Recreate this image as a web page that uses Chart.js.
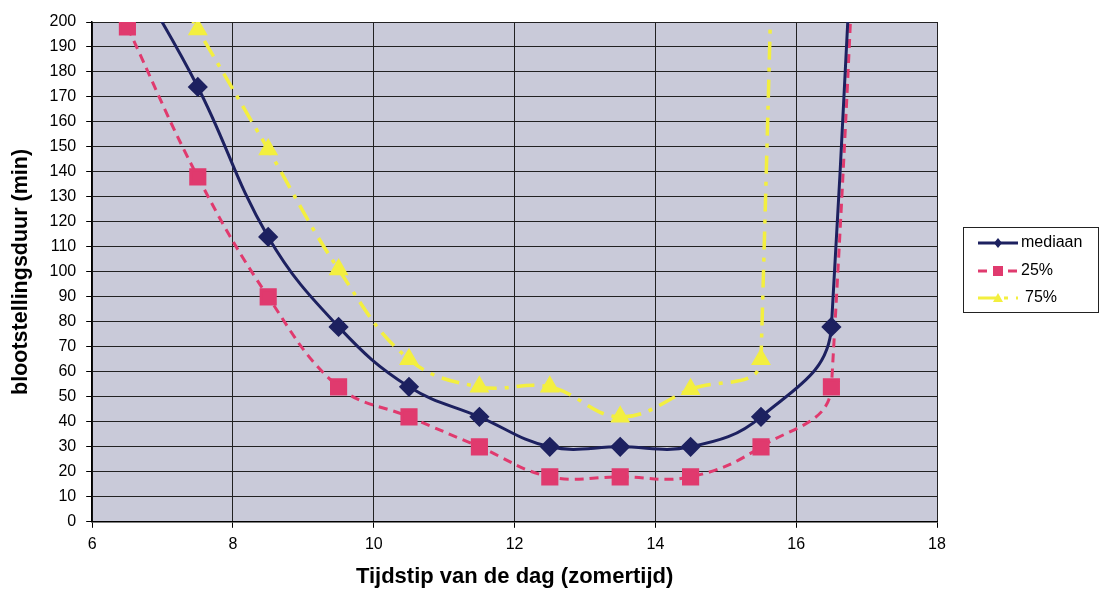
<!DOCTYPE html>
<html>
<head>
<meta charset="utf-8">
<script src="https://cdn.jsdelivr.net/npm/chart.js@4/dist/chart.umd.min.js"></script>
<style>
  html, body { margin: 0; padding: 0; background: #ffffff; }
  #wrap { width: 1101px; height: 589px; position: relative; }
</style>
</head>
<body>
<div id="wrap"><canvas id="c" width="1101" height="589"></canvas></div>
<script>
// ---- data ----
const hoursMed = [6.5, 7.5, 8.5, 9.5, 10.5, 11.5, 12.5, 13.5, 14.5, 15.5, 16.5, 17.5];
const mediaan  = [224, 174, 114, 78, 54, 42, 30, 30, 30, 42, 78, 1000];
const hours25  = [6.5, 7.5, 8.5, 9.5, 10.5, 11.5, 12.5, 13.5, 14.5, 15.5, 16.5, 17.5];
const p25      = [198, 138, 90, 54, 42, 30, 18, 18, 18, 30, 54, 1000];
const hours75  = [6.5, 7.5, 8.5, 9.5, 10.5, 11.5, 12.5, 13.5, 14.5, 15.5, 16.5];
const p75      = [245, 197, 149, 101, 65, 54, 54, 42, 53, 65, 2000];
const seriesNames = ['mediaan', '25%', '75%'];
const xTicks = [6, 8, 10, 12, 14, 16, 18];
const yTitle = 'blootstellingsduur (min)';
const xTitle = 'Tijdstip van de dag (zomertijd)';

const pts = (xs, ys) => xs.map((x, i) => ({ x: x, y: ys[i] }));

const FONT = '"Liberation Sans", Arial, sans-serif';
const COL_MED = '#1d2160';
const COL_25 = '#e03a6e';
const COL_75 = '#f3ef3f';

const legendPlugin = {
  id: 'boxLegend',
  afterDraw(chart) {
    const ctx = chart.ctx;
    const bx = 963, by = 227, bw = 135, bh = 85;
    ctx.save();
    ctx.fillStyle = '#ffffff';
    ctx.fillRect(bx, by, bw, bh);
    ctx.strokeStyle = '#222222';
    ctx.lineWidth = 1;
    ctx.strokeRect(bx + 0.5, by + 0.5, bw, bh);
    const rows = [by + 16, by + 44, by + 71];
    chart.data.datasets.forEach((ds, i) => {
      const y = rows[i];
      ctx.strokeStyle = ds.borderColor;
      ctx.lineWidth = 3;
      ctx.setLineDash(ds.borderDash || []);
      ctx.beginPath();
      ctx.moveTo(978, y);
      ctx.lineTo(1018, y);
      ctx.stroke();
      ctx.setLineDash([]);
      ctx.fillStyle = ds.pointBackgroundColor;
      const cx = 998;
      ctx.beginPath();
      if (ds.pointStyle === 'rect') {
        ctx.fillRect(cx - 5, y - 5, 10, 10);
      } else if (ds.pointStyle === 'rectRot') {
        ctx.moveTo(cx, y - 5); ctx.lineTo(cx + 4, y); ctx.lineTo(cx, y + 5); ctx.lineTo(cx - 4, y); ctx.closePath(); ctx.fill();
      } else {
        ctx.moveTo(cx, y - 5); ctx.lineTo(cx + 5, y + 4); ctx.lineTo(cx - 5, y + 4); ctx.closePath(); ctx.fill();
      }
      ctx.fillStyle = '#000000';
      ctx.font = '16px ' + FONT;
      ctx.textBaseline = 'middle';
      ctx.textAlign = 'left';
      ctx.fillText(ds.label, i === 2 ? 1025 : 1021, y);
    });
    ctx.restore();
  }
};

const bgPlugin = {
  id: 'plotBg',
  beforeDraw(chart) {
    const a = chart.chartArea;
    const ctx = chart.ctx;
    ctx.save();
    ctx.fillStyle = '#c9cad9';
    ctx.fillRect(a.left, a.top, a.right - a.left, a.bottom - a.top);
    ctx.restore();
  }
};

new Chart(document.getElementById('c'), {
  type: 'scatter',
  data: {
    datasets: [
      {
        label: seriesNames[0], data: pts(hoursMed, mediaan), showLine: true,
        borderColor: COL_MED, backgroundColor: COL_MED, pointBackgroundColor: COL_MED,
        pointBorderColor: COL_MED, borderWidth: 3, pointStyle: 'rectRot', pointRadius: 8,
        tension: 0.4
      },
      {
        label: seriesNames[1], data: pts(hours25, p25), showLine: true,
        borderColor: COL_25, backgroundColor: COL_25, pointBackgroundColor: COL_25,
        pointBorderColor: COL_25, borderWidth: 3, borderDash: [9, 6], pointStyle: 'rect', pointRadius: 10,
        tension: 0.4
      },
      {
        label: seriesNames[2], data: pts(hours75, p75), showLine: true,
        borderColor: COL_75, backgroundColor: COL_75, pointBackgroundColor: COL_75,
        pointBorderColor: COL_75, borderWidth: 3.5, borderDash: [18, 8, 4, 8], pointStyle: 'triangle', pointRadius: 8,
        tension: 0.4
      }
    ]
  },
  options: {
    responsive: false,
    animation: false,
    events: [],
    layout: { padding: { left: 10, right: 164, top: 22, bottom: 1 } },
    elements: { line: { capBezierPoints: false } },
    plugins: {
      legend: { display: false },
      tooltip: { enabled: false }
    },
    scales: {
      x: {
        type: 'linear', min: 6, max: 18,
        afterBuildTicks: (axis) => { axis.ticks = xTicks.map(v => ({ value: v })); },
        ticks: { color: '#000', font: { family: FONT, size: 16 }, padding: 7, maxRotation: 0 },
        grid: { color: '#222', lineWidth: 1, tickLength: 6, tickColor: '#000' },
        border: { color: '#000', width: 1.5 },
        title: { display: true, text: xTitle, color: '#000', font: { family: FONT, size: 22, weight: 'bold', lineHeight: 1 }, padding: { top: 5, bottom: 0 } }
      },
      y: {
        type: 'linear', min: 0, max: 200,
        ticks: { stepSize: 10, color: '#000', font: { family: FONT, size: 16 }, padding: 10 },
        grid: { color: '#222', lineWidth: 1, tickLength: 6, tickColor: '#000' },
        border: { color: '#000', width: 1.5 },
        title: { display: true, text: yTitle, color: '#000', font: { family: FONT, size: 21.5, weight: 'bold', lineHeight: 1 }, padding: { top: 0, bottom: 8 } }
      }
    }
  },
  plugins: [bgPlugin, legendPlugin]
});
</script>
</body>
</html>
